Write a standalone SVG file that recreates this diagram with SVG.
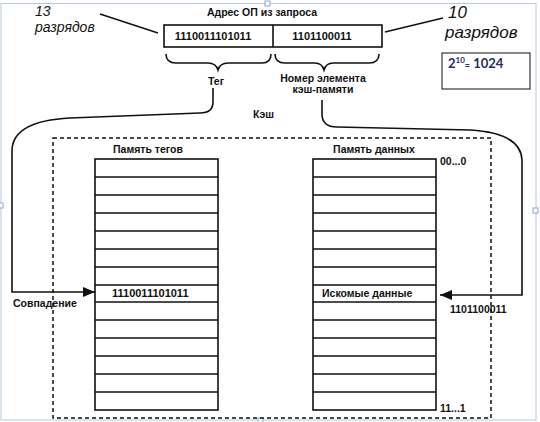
<svg xmlns="http://www.w3.org/2000/svg" width="540" height="422" viewBox="0 0 540 422">
<defs>
<style>
.lbl{font-family:"Liberation Sans",Arial,sans-serif;font-weight:bold;font-size:10.5px;fill:#111}
.num{font-family:"Liberation Sans",Arial,sans-serif;font-weight:bold;font-size:11px;fill:#111}
.it{font-family:"Liberation Sans",Arial,sans-serif;font-style:italic;fill:#111}
.box{fill:#fff;stroke:#111;stroke-width:1.6}
.row{stroke:#111;stroke-width:1.4;fill:none}
.conn{fill:none;stroke:#111;stroke-width:1.6}
.frame{fill:none;stroke:#b7c7dc;stroke-width:1}
.handle{fill:#fff;stroke:#8ea7c9;stroke-width:1}
</style>
<marker id="arr" viewBox="0 0 12 10" refX="12" refY="5" markerWidth="12" markerHeight="10" markerUnits="userSpaceOnUse" orient="auto">
<path d="M0,0 L12,5 L0,10 z" fill="#111"/>
</marker>
</defs>
<rect width="540" height="422" fill="#fff"/>
<g id="frame">
<rect class="frame" x="1" y="3.5" width="535" height="416.5"/>
<rect class="handle" x="265" y="1" width="5" height="5"/>
<rect class="handle" x="533" y="208" width="5" height="5"/>
<rect class="handle" x="-2" y="203" width="5" height="5"/>
<rect class="handle" x="258" y="418" width="5" height="5"/>
</g>
<g id="address">
<text class="lbl" x="262" y="16" text-anchor="middle">Адрес ОП из запроса</text>
<rect class="box" x="164" y="25" width="218" height="22"/>
<line x1="273" y1="25" x2="273" y2="47" stroke="#111" stroke-width="1.6"/>
<text class="num" x="213" y="40" text-anchor="middle">1110011101011</text>
<text class="num" x="322" y="40" text-anchor="middle">1101100011</text>
</g>
<g id="bits13">
<text class="it" x="35" y="16" font-size="14">13</text>
<text class="it" x="35" y="32" font-size="14">разрядов</text>
<line x1="100" y1="14" x2="158" y2="33" stroke="#111" stroke-width="1.4"/>
</g>
<g id="bits10">
<text class="it" x="448" y="18" font-size="17">10</text>
<text class="it" x="445" y="38" font-size="17">разрядов</text>
<line x1="385" y1="32" x2="443" y2="18" stroke="#111" stroke-width="1.4"/>
</g>
<g id="formula">
<rect x="442" y="53" width="88" height="36" fill="#fff" stroke="#111" stroke-width="1"/>
<text x="448" y="68" font-family="Lato,'Open Sans',sans-serif" font-weight="bold" font-size="13" fill="#1f2f5f">2<tspan font-size="8" dy="-5">10</tspan><tspan font-size="9" dy="6">=</tspan><tspan dy="-1"> 1024</tspan></text>
</g>
<g id="tag-brace">
<path class="conn" d="M166 54 Q166 63 176 63 L208 63 Q216 63 218 70 Q220 63 228 63 L262 63 Q271 63 271 54"/>
<text class="lbl" x="216" y="85" text-anchor="middle">Тег</text>
</g>
<g id="index-brace">
<path class="conn" d="M275 54 Q275 63 285 63 L315 63 Q322 63 324 70 Q326 63 333 63 L369 63 Q379 63 379 54"/>
<text class="lbl" x="323" y="82" text-anchor="middle">Номер элемента</text>
<text class="lbl" x="323" y="93" text-anchor="middle">кэш-памяти</text>
</g>
<g id="cache">
<rect x="53" y="138" width="438" height="280" fill="none" stroke="#111" stroke-width="1.5" stroke-dasharray="4 3"/>
<text class="lbl" x="253" y="118">Кэш</text>
</g>
<g id="tag-memory">
<text class="lbl" x="148" y="153" text-anchor="middle">Память тегов</text>
<rect class="box" x="95" y="159" width="123" height="251"/>
<path class="row" d="M95 177H218M95 195H218M95 213H218M95 231H218M95 249H218M95 267H218M95 285H218M95 302H218M95 320H218M95 338H218M95 356H218M95 374H218M95 392H218"/>
<text class="num" x="112" y="297">1110011101011</text>
</g>
<g id="data-memory">
<text class="lbl" x="374" y="153" text-anchor="middle">Память данных</text>
<rect class="box" x="313" y="159" width="123" height="251"/>
<path class="row" d="M313 177H436M313 195H436M313 213H436M313 231H436M313 249H436M313 267H436M313 285H436M313 302H436M313 320H436M313 338H436M313 356H436M313 374H436M313 392H436"/>
<text class="lbl" x="322" y="297">Искомые данные</text>
<text class="lbl" x="440" y="165">00...0</text>
<text class="lbl" x="440" y="412">11...1</text>
</g>
<g id="connectors">
<path class="conn" d="M213 88 V102 Q213 113 200 113 L70 118 Q13 121 12 150 V292 H95" marker-end="url(#arr)"/>
<path class="conn" d="M322 100 V114 Q322 127 337 127 L470 130 Q521 133 522 160 V295 H440" marker-end="url(#arr)"/>
<text class="lbl" x="13" y="307">Совпадение</text>
<text class="lbl" x="450" y="313">1101100011</text>
</g>
</svg>
